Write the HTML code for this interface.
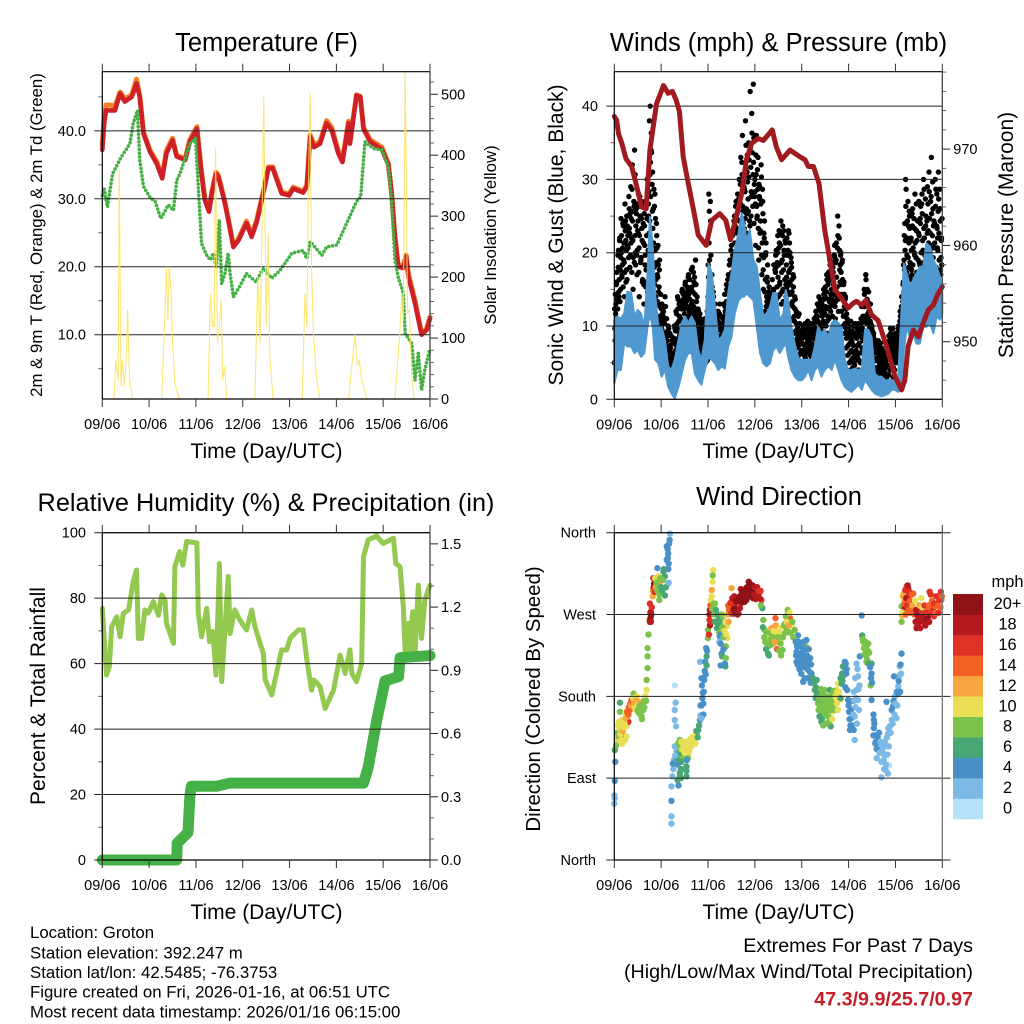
<!DOCTYPE html>
<html lang="en">
<head>
<meta charset="utf-8">
<title>Weather station meteogram</title>
<style>
html,body{margin:0;padding:0;background:#fff;width:1024px;height:1024px;overflow:hidden}
svg{display:block}
text{font-family:"Liberation Sans",Arial,sans-serif;fill:#000}
.tk{font-size:14.5px}
.ax{font-size:21px}
.ttl{font-size:25.5px}
.foot{font-size:16.8px}
.ext{font-size:19.7px}
</style>
</head>
<body>
<svg id="fig" xmlns="http://www.w3.org/2000/svg" width="1024" height="1024" viewBox="0 0 1024 1024">
  <rect x="0" y="0" width="1024" height="1024" fill="#fff"/>
  <g id="p1"></g>
  <g id="p2"></g>
  <g id="p3"></g>
  <g id="p4"></g>
  <g id="speed-legend"></g>

  <text class="ttl" x="266.5" y="51" text-anchor="middle">Temperature (F)</text>
  <text class="ttl" x="778.5" y="51" text-anchor="middle">Winds (mph) &amp; Pressure (mb)</text>
  <text class="ttl" x="266" y="511" text-anchor="middle" style="font-size:25.3px">Relative Humidity (%) &amp; Precipitation (in)</text>
  <text class="ttl" x="779" y="505" text-anchor="middle">Wind Direction</text>

  <text class="ax" x="266.5" y="458" text-anchor="middle">Time (Day/UTC)</text>
  <text class="ax" x="778.5" y="458" text-anchor="middle">Time (Day/UTC)</text>
  <text class="ax" x="266.5" y="919" text-anchor="middle">Time (Day/UTC)</text>
  <text class="ax" x="778.5" y="919" text-anchor="middle">Time (Day/UTC)</text>

  <text x="0" y="0" transform="translate(42,235) rotate(-90)" text-anchor="middle" style="font-size:16.8px">2m &amp; 9m T (Red, Orange) &amp; 2m Td (Green)</text>
  <text x="0" y="0" transform="translate(496,235) rotate(-90)" text-anchor="middle" style="font-size:16.8px">Solar Insolation (Yellow)</text>
  <text x="0" y="0" transform="translate(563,235) rotate(-90)" text-anchor="middle" style="font-size:21px">Sonic Wind &amp; Gust (Blue, Black)</text>
  <text x="0" y="0" transform="translate(1013,235) rotate(-90)" text-anchor="middle" style="font-size:21px">Station Pressure (Maroon)</text>
  <text x="0" y="0" transform="translate(45,696) rotate(-90)" text-anchor="middle" style="font-size:21px">Percent &amp; Total Rainfall</text>
  <text x="0" y="0" transform="translate(540,699) rotate(-90)" text-anchor="middle" style="font-size:20.4px">Direction (Colored By Speed)</text>

  <text class="foot" x="30" y="938">Location: Groton</text>
  <text class="foot" x="30" y="958.5">Station elevation: 392.247 m</text>
  <text class="foot" x="30" y="978">Station lat/lon: 42.5485; -76.3753</text>
  <text class="foot" x="30" y="997.5">Figure created on Fri, 2026-01-16, at 06:51 UTC</text>
  <text class="foot" x="30" y="1017.5">Most recent data timestamp: 2026/01/16 06:15:00</text>

  <text class="ext" x="973" y="952" text-anchor="end">Extremes For Past 7 Days</text>
  <text class="ext" x="973" y="978" text-anchor="end">(High/Low/Max Wind/Total Precipitation)</text>
  <text class="ext" x="973" y="1005.5" text-anchor="end" style="font-weight:bold;fill:#c4202a">47.3/9.9/25.7/0.97</text>
</svg>

<script>
/* ---------- shared axis labels ---------- */
const dayLabels = ["09/06","10/06","11/06","12/06","13/06","14/06","15/06","16/06"];

/* ---------- temperature panel data ---------- */
const tempDays = [0,.04,.08,.16,.27,.38,.48,.63,.73,.80,
 .88,1.02,1.16,1.28,1.37,1.50,1.59,1.77,1.87,2.02,
 2.11,2.19,2.28,2.34,2.43,2.48,2.55,2.62,2.69,2.80,
 2.91,3.08,3.19,3.30,3.44,3.55,3.64,3.83,3.99,4.08,
 4.29,4.37,4.44,4.52,4.65,4.79,4.90,5.04,5.13,5.26,
 5.29,5.43,5.51,5.58,5.72,5.97,6.11,6.18,6.25,6.32,
 6.43,6.49,6.54,6.68,6.82,6.93,7];
const temp2m = [37.2,41.1,43,43,43,45.5,44.3,45,47,45,
 39.6,36.9,35.2,33,36.7,38.6,36.2,35.7,38.4,40.3,
 34.2,29.8,28.1,30.8,33.7,33.2,31.3,29.3,26.9,22.9,
 23.9,26.4,24.4,26.6,30.8,34.5,34.5,30.8,30.5,31.5,
 30.9,31.8,39.1,37.6,38.1,41.1,40.1,36.7,35.4,41.1,
 38.1,45.2,45,40.3,38.4,37.3,35,30.8,24.4,20,
 19.8,21.5,18.5,14.6,10,10.7,12.4];
const temp9m = [38,41.9,43.8,43.8,43.6,45.7,44.7,45.3,47.6,45.1,
 39.8,37.1,35.5,33.3,37.1,38.9,36.4,35.9,38.7,40.6,
 34.5,30.1,28.4,31.1,33.9,33.4,31.5,29.5,27.1,23.1,
 24.1,26.7,24.7,26.9,31.1,34.7,34.7,31,30.7,31.7,
 31.1,32,39.4,37.9,38.4,41.5,40.5,37.1,35.7,41.4,
 38.4,45.3,45.1,40.5,38.7,37.6,35.2,30.9,24.5,20.3,
 20.1,21.7,18.9,15,10.2,10.9,12.6];
const dewDays = [0,.04,.11,.22,.41,.59,.66,.75,.80,.88,
 1.02,1.13,1.25,1.41,1.52,1.59,1.66,1.87,1.99,2.05,
 2.12,2.23,2.31,2.37,2.44,2.50,2.55,2.62,2.69,2.73,
 2.80,2.91,3.08,3.28,3.44,3.62,3.80,4.05,4.29,4.37,
 4.44,4.69,4.79,5.01,5.22,5.43,5.52,5.61,5.79,5.97,
 6.11,6.18,6.25,6.32,6.43,6.47,6.61,6.68,6.75,6.82,
 6.89,7];
const dewPoint = [30.5,31.5,28.8,33.7,36.2,38.1,41.1,43,35.7,31.8,
 30.2,29.6,27.1,29.1,28.3,32.7,33.7,38.1,38.9,31.8,
 23.4,21.7,21,22,19.8,26.9,17.5,19,22,19,
 15.6,16.8,19,17.8,19.8,18.3,19.5,22,22.4,21.2,
 23.7,21.7,22.9,23.2,26.4,29.6,30.3,38.4,37.4,37.2,
 34.7,29.8,21,18.5,16.1,10.2,8.7,3.3,7.3,1.9,
 4.8,8];
const solarDays = [.25,.29,.34,.36,.40,.43,.47,.51,.54,.58,.64,
 1.27,1.34,1.37,1.40,1.43,1.47,1.50,1.55,1.65,
 2.26,2.31,2.36,2.39,2.42,2.46,2.50,2.54,2.57,2.61,2.66,
 3.26,3.32,3.37,3.40,3.45,3.50,3.54,3.58,3.65,
 4.27,4.33,4.37,4.40,4.44,4.47,4.51,4.58,4.65,
 5.26,5.33,5.40,5.45,5.49,5.54,5.65,
 6.25,6.35,6.40,6.43,6.47,6.52,6.56,6.61,6.66];
const solarValues = [0,64,32,376,21,64,21,64,146,37,0,
 0,146,217,130,217,173,92,26,0,
 0,173,119,119,411,92,119,163,32,53,0,
 0,201,92,223,496,119,272,64,0,
 0,173,119,337,502,217,108,32,0,
 0,54,106,54,64,32,0,
 0,103,173,130,537,141,146,37,0];
const tempTicks = [10,20,30,40];
const tempTickLabels = ["10.0","20.0","30.0","40.0"];
const tempMinorTicks = [5,15,25,35,45];
const solarTicks = [0,100,200,300,400,500];
const solarMinorTicks = [20,40,60,80,120,140,160,180,220,240,260,280,320,340,360,380,420,440,460,480,520];

/* ---------- winds panel data ---------- */
const pressureDays = [0,.05,.09,.16,.25,.37,.48,.58,.68,.76,
 .90,1.05,1.15,1.24,1.32,1.39,1.47,1.58,1.69,1.79,
 1.96,2.08,2.25,2.38,2.48,2.57,2.72,2.82,2.93,3.07,
 3.18,3.37,3.46,3.57,3.75,3.96,4.07,4.14,4.25,4.37,
 4.49,4.60,4.71,4.85,4.99,5.10,5.17,5.28,5.37,5.49,
 5.63,5.81,5.99,6.13,6.20,6.27,6.38,6.49,6.59,6.70,
 6.81,6.91,7];
const pressureValues = [973.4,973,971.6,970.6,969,968.2,966.1,964,963.8,969.9,
 974.7,976.6,975.8,976,975.1,973.9,969.2,966.4,963.7,961.1,
 960,962.6,963.3,962.6,960.6,962.3,965.4,968.9,970.6,971.1,
 970.9,972,970.2,968.9,969.9,969.2,968.9,968.2,968.2,966.4,
 961.6,958.5,955.4,954.5,953.5,954,954.2,953.8,954.3,952.8,
 952.2,949.5,946.4,945,946,949.5,951.2,950.5,951.9,953.3,
 953.8,955,955.7];
const windDays = [0,.07,.14,.21,.28,.36,.43,.50,.57,.64,
 .71,.76,.82,.87,.94,1.01,1.08,1.15,1.22,1.29,
 1.37,1.44,1.51,1.58,1.65,1.72,1.79,1.86,1.93,2.01,
 2.08,2.15,2.22,2.29,2.36,2.43,2.50,2.57,2.65,2.72,
 2.77,2.82,2.89,2.97,3.04,3.11,3.18,3.25,3.32,3.39,
 3.46,3.53,3.61,3.66,3.71,3.78,3.85,3.93,4.0,4.07,
 4.14,4.21,4.28,4.35,4.42,4.49,4.57,4.64,4.71,4.78,
 4.85,4.92,4.99,5.06,5.14,5.21,5.28,5.35,5.42,5.49,
 5.56,5.63,5.70,5.78,5.85,5.92,5.99,6.06,6.13,6.18,
 6.24,6.31,6.38,6.45,6.52,6.59,6.66,6.74,6.81,6.88,6.95,7];
const windHigh = [10.8,11.3,11,11.7,14.7,14.5,11.3,12.2,11.7,9.9,
 17.2,24.9,20.8,14.5,9.9,9.9,8.1,4.5,4,5.4,
 8.1,10.4,11.3,10.4,11.3,10.4,6.7,5.4,8.1,18.5,
 17.2,12.6,8.1,8.5,9.5,14.5,17.2,20.4,22.6,25.4,
 24,21.7,23.1,19,18.1,14.5,11.3,11.7,12.6,14.5,
 14.5,10.8,11.7,14.9,13.5,9.9,7.6,5.6,5.4,5.4,
 5.4,5.4,7.2,9.9,9,9.5,8.5,10.4,10.8,10.4,
 9.9,5.4,4,4,4.2,4,4.2,9.5,9.5,8.5,
 3.5,3.1,3.1,2.6,2.6,2.6,2.6,3.1,12.2,18.5,
 17.2,15.4,16.3,17.2,18.1,18.1,21.3,20.8,19,18.1,16.7,14.5];
const windLow = [2.2,4,4,7.6,7.2,7.2,6.3,6.7,5.8,6.3,
 9.9,11.7,9.9,5.4,4.9,3.1,4,1.7,.8,.1,
 1.7,3.5,5.4,6.3,6.3,3.5,2.6,2,4,5.8,
 5.4,4.9,4,4.5,4.2,7.2,8.5,11.7,13.5,14,
 14,14.5,14,13.5,9.9,6.3,4.9,4.5,4.9,6.7,
 7.2,6.3,7.2,7.6,5.8,4,3.1,2.6,2.6,3.1,
 4,2.6,4,4.5,3.1,4,4.5,4,5.4,4,
 2.6,1.7,1.3,1,1.5,2,1.3,2.6,2,1.3,
 .8,.6,.4,.6,.8,1.3,1.3,1,2,6.7,
 9.9,8.5,9,7.6,7.6,9.9,9.9,10.4,9,11.3,10.9,11.7];
const gustPerDay = 60;
const gustValues = [
 5,8,13,16,11,18,14,22,15,20, 17,24,19,14,23,16,25,21,13,26,
 18,29,22,32,15,27,34,20,26,17, 23,28,14,25,19,27,16,24,13,21,
 27,16,30,12,25,38,40,34,20,31, 26,18,28,14,24,17,21,13,19,11,
 10,13,7,12,9,14,6,11,8,10, 5,9,7,4,8,3,6,10,5,12,
 8,14,7,13,9,11,6,15,10,13, 8,16,11,14,9,17,12,15,8,13,
 18,10,16,12,19,11,14,9,12,8, 11,7,10,6,9,8,11,5,9,12,
 14,28,19,27,12,17,10,14,8,13, 7,11,6,12,8,13,7,10,6,11,
 13,8,12,7,15,10,17,12,19,13, 21,15,23,16,25,18,27,20,28,16,
 30,22,33,18,36,24,29,20,38,26, 31,22,35,17,42,25,39,28,43,24,
 30,21,36,25,33,19,29,23,32,17, 27,15,22,12,20,14,16,10,13,9,
 12,8,13,10,15,11,14,18,12,20, 14,23,16,21,13,19,15,23,11,20,
 14,22,12,23,16,20,13,18,11,17, 9,14,8,12,7,10,6,9,5,8,
 9,5,10,6,9,4,10,7,8,5, 10,6,9,5,10,7,11,6,12,8,
 13,7,14,9,12,6,13,10,15,8, 14,10,17,9,16,11,19,12,15,9,
 18,13,21,11,19,14,25,12,22,16, 20,12,19,10,16,9,14,7,11,6,
 10,5,9,4,8,3,10,5,9,4, 10,6,9,4,10,5,11,7,13,8,
 15,9,17,11,15,8,12,6,13,7, 10,5,9,3,8,4,7,3,8,5,
 6,3,7,2,6,4,5,2,6,3, 7,2,8,4,9,5,8,3,7,4,
 9,5,8,6,10,7,12,8,14,10, 16,19,24,30,15,22,27,18,25,14,
 22,17,26,13,20,28,16,23,12,19, 27,15,24,20,28,17,30,22,14,25,
 19,29,23,31,18,27,33,21,26,16, 24,30,18,28,22,31,19,26,17,22];
const gustValuesB = [
 12,14,10,17,12,20,16,13,19,22, 18,15,21,17,24,20,16,22,19,23,
 25,21,17,24,19,26,22,18,25,20, 24,17,22,26,19,23,16,21,25,18,
 15,22,12,20,28,24,32,36,29,23, 21,26,20,16,22,13,18,15,11,14,
 12,9,11,6,10,8,7,5,9,6, 4,7,5,3,6,4,8,5,9,7,
 10,12,8,11,13,9,12,7,14,10, 12,9,13,15,11,14,16,12,10,15,
 13,17,11,14,10,13,8,12,9,7, 10,6,9,5,8,6,10,7,8,5,
 18,21,13,24,11,15,9,12,7,11, 6,9,8,11,6,10,5,9,7,10,
 11,14,9,13,11,16,14,18,15,20, 17,22,19,24,21,26,23,25,18,27,
 24,29,21,32,26,30,23,28,31,25, 33,27,30,24,34,28,36,26,32,29,
 28,33,26,31,23,29,27,24,30,21, 25,19,24,16,21,13,18,11,15,10,
 14,10,16,12,18,14,17,20,15,22, 18,21,14,24,17,22,13,20,16,21,
 18,15,20,17,21,14,19,16,13,15, 11,12,9,10,8,11,7,10,6,9,
 8,6,9,7,10,5,8,6,9,7, 8,5,10,6,9,8,10,7,11,9,
 11,8,12,10,13,9,11,12,14,10, 15,12,16,11,17,13,18,14,16,11,
 17,14,19,13,21,15,22,14,20,18, 17,14,16,11,14,10,12,8,10,7,
 9,6,8,5,9,4,7,6,10,5, 8,7,10,5,9,6,10,8,11,9,
 14,11,16,10,13,9,11,7,10,8, 9,6,8,4,7,5,6,4,7,6,
 5,4,6,3,5,3,6,4,5,2, 6,3,7,5,8,6,7,4,6,5,
 8,6,7,5,9,8,11,9,12,13, 18,22,20,26,17,24,19,21,23,16,
 20,25,18,15,23,21,19,17,24,14, 22,18,26,16,25,20,23,15,27,19,
 24,17,21,28,20,16,25,22,19,24, 21,26,16,23,20,27,15,24,19,18];
const gustValuesC = [
 9,11,15,13,19,14,21,17,24,16, 20,23,18,26,21,17,23,20,27,22,
 19,24,28,21,25,18,30,23,19,26, 22,20,27,18,24,21,26,15,23,19,
 17,24,14,26,22,30,27,33,25,20, 28,15,24,18,20,16,14,17,12,10,
 9,11,8,10,7,12,5,8,6,9, 6,5,8,4,7,5,7,9,6,11,
 9,13,10,8,12,10,14,9,13,11, 15,8,14,12,16,10,13,11,17,9,
 14,12,16,10,15,9,11,10,7,11, 8,9,6,10,7,9,6,8,10,6,
 16,25,15,19,13,10,14,8,10,6, 9,7,10,8,11,7,9,8,6,8,
 9,12,10,15,9,14,12,16,13,18, 16,19,22,18,23,15,24,22,26,20,
 22,26,18,30,25,21,28,24,34,22, 29,25,32,23,31,27,33,30,35,27,
 26,30,24,28,20,27,22,26,19,28, 17,22,14,19,12,16,12,14,11,13,
 11,13,9,14,13,17,19,13,18,16, 20,15,22,18,14,23,17,19,21,15,
 16,19,14,22,17,15,18,14,12,16, 10,13,7,11,9,8,11,7,8,6,
 7,9,6,8,5,9,7,10,6,8, 6,9,7,8,6,9,8,9,10,7,
 10,12,9,13,8,12,11,10,13,11, 12,14,10,15,13,16,12,17,13,18,
 15,19,12,18,16,20,13,23,17,19, 15,18,13,15,12,13,9,11,8,9,
 8,7,10,6,7,5,8,4,8,6, 9,5,8,7,9,8,12,9,10,12,
 12,14,10,13,11,14,9,10,8,9, 7,8,5,7,6,3,7,5,6,3,
 7,5,4,6,4,5,3,7,4,6, 5,8,4,9,6,7,9,5,8,6,
 7,8,6,9,7,10,8,12,11,15, 14,17,21,28,19,16,23,25,18,21,
 17,23,20,24,19,16,26,21,15,22, 18,24,16,26,21,18,28,19,23,17,
 22,26,19,24,22,27,18,29,23,20, 17,28,23,20,25,22,28,17,21,24];
const gustPassOffsets = [0,.33,.66];
const windLeftTicks = [0,10,20,30,40];
const windLeftLabels = ["0","10","20","30","40"];
const windMinorTicks = [5,15,25,35];
const pressureTicks = [950,960,970];
const pressureMinorTicks = [946,948,952,954,956,958,962,964,966,968,972,974,976,978];

/* ---------- humidity panel data ---------- */
const humidityDays = [0,.09,.15,.20,.31,.38,.45,.56,.66,.73,
 .77,.84,.91,.98,1.09,1.20,1.27,1.34,1.37,1.52,
 1.55,1.65,1.72,1.80,2.02,2.05,2.12,2.23,2.29,2.36,
 2.43,2.50,2.55,2.69,2.73,2.83,2.94,3.08,3.19,3.26,
 3.37,3.44,3.48,3.62,3.72,3.83,3.94,4.01,4.19,4.29,
 4.37,4.47,4.52,4.65,4.76,4.94,5.08,5.19,5.29,5.33,
 5.43,5.54,5.58,5.68,5.86,6.0,6.22,6.27,6.36,6.43,
 6.47,6.54,6.57,6.63,6.68,6.75,6.82,6.89,7];
const humidityValues = [76.9,56.5,59.1,71.3,74.3,68.2,75.4,76.4,85,88.6,
 67.7,67.7,76.4,75.4,78.9,74.8,81,79.4,72.3,66.2,
 89.6,94.2,90.1,97.3,96.9,75.4,68.2,76.9,66.7,69.8,
 56.5,90.6,54.5,86.6,69.2,76.4,73.3,70.3,76.4,71.3,
 66.2,63.1,55,50.4,57,64.2,64.2,67.7,70.3,70.3,
 61.1,51.9,55,53,46.3,51.9,62.6,57,64.2,57,
 54.5,60.1,92.7,97.8,99,96.7,98.3,90.6,89.6,77.4,
 63.1,72.3,63.6,75.9,62.6,84,67.7,79.4,84];
const rainDays = [0,1.59,1.60,1.83,1.87,1.9,2.44,2.73,5.58,5.68,5.86,6.04,6.33,6.36,7];
const rainValues = [0,0,.08,.13,.30,.35,.35,.365,.365,.44,.66,.85,.87,.96,.97];
const humidityTicks = [0,20,40,60,80,100];
const humidityTickLabels = ["0","20","40","60","80","100"];
const humidityMinorTicks = [10,30,50,70,90];
const rainTicks = [0,.3,.6,.9,1.2,1.5];
const rainTickLabels = ["0.0","0.3","0.6","0.9","1.2","1.5"];
const rainMinorTicks = [.1,.2,.4,.5,.7,.8,1,1.1,1.3,1.4];

/* ---------- wind direction panel data ---------- */
const dirTicks = [0,90,180,270,360];
const dirTickLabels = ["North","East","South","West","North"];
const dirDays = [0,.01,0,.01,.02,.01,.05,.09,.12,.16,.12,.19,.23,.26,.30,.33,.37,.41,.44,.48,.51,.55,.58,.62,.65,.69,.12,.26,.69,.71,.71,.71,.73,.75,.78,.78,.76,.82,.85,.85,.87,.92,.96,.97,.94,1.05,1.08,1.08,1.15,1.12,1.15,1.17,1.19,1.29,1.31,1.29,1.29,1.32,
 1.22,1.22,1.22,1.22,1.24,1.37,1.27,1.29,1.40,1.54,1.54,1.44,1.47,1.40,1.58,1.61,1.69,1.72,1.76,1.79,1.83,1.84,1.90,1.91,1.86,1.97,1.96,1.83,2.0,2.0,2.03,2.04,2.08,2.11,2.10,2.10,2.08,2.15,2.22,2.25,2.24,2.32,2.40,2.41,2.38,2.29,2.27,2.37,2.36,
 2.50,2.47,2.54,2.61,2.65,2.72,2.79,2.89,2.93,3.04,3.11,3.14,2.82,2.68,2.57,2.54,2.62,2.75,2.86,2.96,3.07,2.47,
 3.16,3.18,3.21,3.25,3.28,3.32,3.36,3.43,3.44,3.45,3.46,3.57,3.59,3.68,3.71,3.75,3.78,3.85,3.28,3.39,3.54,3.64,
 3.92,3.96,3.89,4.0,4.10,4.07,4.17,4.03,4.09,4.21,3.96,4.03,3.89,4.14,
 4.32,4.28,4.39,4.49,4.60,4.67,4.74,4.78,4.78,4.71,4.35,4.53,4.64,4.42,4.49,4.60,4.42,4.62,4.67,4.81,4.42,4.60,4.32,
 4.88,4.92,4.94,4.85,4.97,4.99,5.01,5.06,5.03,5.13,5.11,5.17,5.20,5.17,5.20,5.13,5.24,5.28,
 5.29,5.31,5.35,5.42,5.38,5.38,5.49,5.49,5.47,5.49,
 5.54,5.54,5.56,5.58,5.60,5.70,5.75,5.79,5.84,5.87,5.81,5.84,5.88,5.92,5.95,5.99,6.06,6.09,5.97,6.13,6.09,6.06,6.02,5.81,5.70,5.74,5.63,
 6.13,6.14,6.13,6.18,6.24,6.27,6.34,6.38,6.20,6.48,6.45,6.52,6.55,6.63,6.70,6.73,6.77,6.80,6.88,6.95,6.98,6.52,6.38,6.27,6.20,6.59,6.70,6.84];
const dirDegrees = [62,68,71,87,108,121,132,136,143,154,163,136,132,147,152,165,176,183,176,180,174,169,158,165,176,187,173,136,198,211,224,233,248,264,268,273,282,290,301,304,297,321,286,306,312,317,312,291,304,330,337,348,359,192,173,165,154,147,
 48,40,65,81,92,82,110,125,92,92,103,117,125,132,117,128,128,134,139,143,154,159,172,185,200,224,233,218,244,253,264,275,290,319,313,306,297,282,264,246,240,264,257,244,235,227,214,213,216,
 299,279,280,277,271,293,291,304,295,295,295,286,286,277,284,271,284,288,295,288,291,271,
 277,264,253,247,227,236,253,257,266,247,240,244,231,253,271,266,258,253,246,246,249,260,
 247,235,218,224,242,216,207,196,235,205,227,233,229,220,
 198,187,183,187,187,183,187,194,180,174,172,172,163,163,161,156,152,147,169,176,176,176,181,
 213,205,216,194,187,176,163,156,143,132,143,216,202,187,176,158,224,269,
 247,240,235,238,224,218,216,205,192,176,
 154,145,137,130,112,91,110,99,95,104,125,139,147,154,169,180,191,203,202,227,213,183,156,174,125,117,128,
 262,269,279,293,301,290,282,275,277,264,255,275,288,269,268,295,282,275,282,291,286,262,293,299,286,273,275,279];
const dirSpeeds = [2,2,2,3,4,5,10,8,10,10,8,15,10,10,15,13,15,8,12,10,12,10,7,8,8,10,6,9,7,7,7,8,8,12,18,17,15,12,17,20,12,4,7,11,10,6,5,5,2,4,4,4,2,0,2,1,2,2,
 2,2,4,2,2,4,2,2,6,6,5,6,10,8,10,10,10,10,7,6,4,2,4,4,4,6,4,2,8,8,15,17,10,10,7,10,12,7,6,4,2,8,10,10,7,4,4,6,4,
 12,14,16,18,18,18,19,20,20,18,16,16,19,18,18,20,18,20,20,19,18,15,
 6,7,7,6,6,7,10,13,14,12,12,10,7,8,8,13,10,7,9,8,9,8,
 4,4,4,4,4,4,4,4,7,4,4,4,4,4,
 6,6,8,8,6,8,10,9,12,10,7,7,10,7,8,7,6,6,8,10,6,8,6,
 6,6,4,6,4,3,4,4,3,2,4,2,2,2,2,2,4,4,
 6,8,8,7,8,8,5,4,7,3,
 4,4,4,3,2,1,2,2,2,0,2,2,2,2,4,2,2,2,3,4,2,3,2,3,2,2,2,
 7,12,8,12,14,16,14,13,18,17,18,16,10,18,20,16,14,18,16,16,14,18,14,18,12,16,14,14];
const dirDenseObservations = [
 [.04,126,7],[.06,140,8],[.08,148,10],[.10,152,10],[.11,145,10],[.13,138,10],[.14,150,10],[.15,132,9],[.17,128,10],[.18,142,12],[.20,146,10],[.22,150,10],[.24,156,12],[.25,160,10],[.27,163,13],[.28,158,12],[.30,160,14],[.31,168,14],[.34,172,13],[.36,170,12],[.38,174,14],[.40,178,10],[.42,172,12],[.43,168,10],[.45,172,12],[.46,165,10],[.47,175,12],[.49,170,10],[.50,165,8],[.52,162,8],[.54,170,8],[.56,160,7],[.57,165,8],[.59,155,8],[.60,170,7],[.63,175,8],[.64,168,8],[.66,180,9],[.68,175,7],
 [.76,262,18],[.77,265,20],[.78,262,18],[.79,270,20],[.77,272,17],[.80,278,16],[.82,296,12],[.83,310,15],[.84,300,18],[.86,295,16],[.87,310,10],[.88,300,12],[.90,305,8],[.92,296,8],[.95,300,7],[.96,292,8],[.98,310,8],[1.0,300,6],[1.02,296,5],[1.04,308,7],[1.06,320,6],[1.1,300,5],[1.12,345,4],[1.14,342,4],[1.14,332,4],[1.16,326,4],[1.18,352,4],[1.15,320,4],[1.16,305,2],
 [1.33,120,2],[1.34,112,6],[1.35,105,4],[1.36,128,8],[1.38,118,6],[1.39,110,6],[1.41,122,8],[1.42,100,6],[1.43,130,10],[1.45,122,10],[1.46,112,8],[1.48,130,10],[1.49,120,10],[1.5,118,10],[1.52,128,10],[1.53,122,10],[1.55,130,10],[1.56,125,10],[1.57,112,8],[1.59,127,10],[1.6,120,10],[1.62,133,10],[1.64,125,10],[1.65,135,10],[1.67,130,10],[1.7,136,10],[1.73,128,10],[1.75,142,6],[1.78,135,6],[1.81,148,5],[1.3,115,2],[1.26,100,2],[1.25,106,3],[1.35,88,5],[1.4,96,6],[1.42,90,6],[1.43,108,5],[1.54,98,5],[1.55,110,4],
 [1.86,170,4],[1.88,178,4],[1.87,192,4],[1.89,184,4],[1.9,160,3],[1.93,208,4],[1.94,218,4],[1.95,204,4],[1.92,198,4],[1.97,214,5],[1.98,230,4],[1.86,156,2],[1.84,170,4],
 [2.02,248,15],[2.03,270,18],[2.04,258,17],[2.05,280,14],[2.06,286,10],[2.07,262,16],[2.09,276,8],[2.12,282,7],[2.13,270,7],[2.15,262,6],[2.17,275,6],[2.19,255,6],[2.21,270,6],[2.23,258,6],[2.24,250,7],[2.26,262,6],[2.28,248,4],[2.27,238,4],[2.29,270,8],[2.31,256,8],[2.33,245,8],[2.35,252,10],[2.37,262,9],[2.39,248,10],[2.41,270,12],[2.43,280,14],[2.45,275,14],[2.44,262,12],[2.33,232,4],[2.3,224,5],[2.38,222,7],
 [2.48,283,16],[2.5,272,16],[2.52,288,18],[2.55,276,19],[2.56,290,18],[2.58,272,20],[2.6,285,19],[2.63,270,18],[2.66,288,20],[2.68,290,19],[2.7,298,18],[2.72,283,20],[2.74,296,20],[2.77,294,19],[2.78,284,20],[2.8,298,20],[2.83,300,20],[2.85,292,20],[2.87,306,20],[2.88,298,20],[2.91,300,20],[2.92,290,19],[2.95,302,20],[2.97,296,20],[2.99,292,18],[3.0,300,18],[3.02,287,18],[3.05,300,17],[3.08,296,16],[3.1,288,18],[3.12,296,16],[3.13,280,7],
 [3.17,256,6],[3.2,245,7],[3.22,240,8],[3.24,232,6],[3.26,238,7],[3.3,225,6],[3.31,250,8],[3.34,243,8],[3.35,255,12],[3.38,238,8],[3.4,252,10],[3.42,240,12],[3.45,258,12],[3.47,232,13],[3.48,250,10],[3.5,245,8],[3.52,230,8],[3.53,255,9],[3.55,238,8],[3.56,225,7],[3.6,245,7],[3.62,258,8],[3.65,250,8],[3.66,268,8],[3.68,262,10],[3.7,275,8],[3.72,258,12],[3.74,272,10],[3.76,250,8],[3.8,262,8],[3.82,245,7],
 [3.87,240,4],[3.9,235,4],[3.88,225,4],[3.91,215,4],[3.93,240,4],[3.94,222,4],[3.95,210,4],[3.97,238,4],[3.98,218,4],[3.99,205,4],[4.01,228,4],[4.02,212,4],[4.04,240,4],[4.05,220,4],[4.06,200,4],[4.08,232,4],[4.1,215,4],[4.11,225,4],[4.12,210,4],[4.13,200,4],[4.15,232,4],[4.16,215,4],[4.18,222,4],[4.19,195,4],[4.2,215,4],[4.22,195,4],[4.24,200,5],
 [4.26,195,6],[4.3,190,6],[4.3,178,6],[4.34,185,6],[4.36,165,7],[4.37,178,7],[4.38,158,6],[4.4,170,7],[4.41,188,8],[4.43,155,6],[4.44,182,8],[4.45,168,7],[4.46,148,7],[4.47,175,7],[4.5,160,7],[4.51,180,8],[4.52,150,7],[4.54,165,7],[4.55,180,7],[4.56,158,8],[4.58,170,7],[4.59,152,7],[4.61,165,8],[4.63,180,7],[4.65,155,9],[4.66,172,8],[4.68,186,8],[4.7,165,8],[4.72,180,10],[4.75,172,10],[4.76,185,10],[4.77,165,10],[4.8,185,10],[4.83,178,6],
 [4.83,200,6],[4.86,205,6],[4.87,197,6],[4.89,203,6],[4.9,212,6],[4.92,218,4],[4.95,205,4],[4.93,190,4],[4.96,210,4],
 [5.0,170,4],[5.02,155,3],[5.04,148,3],[5.05,165,4],[5.07,148,4],[5.08,175,3],[5.1,160,2],[5.11,185,2],[5.12,175,2],[5.14,200,2],[5.15,168,2],[5.16,178,2],[5.18,150,2],[5.19,210,2],[5.21,188,2],[5.22,165,2],[5.23,192,2],
 [5.3,243,7],[5.33,233,8],[5.34,226,8],[5.36,240,8],[5.37,228,8],[5.39,236,8],[5.4,220,8],[5.41,230,7],[5.42,216,6],[5.44,228,7],[5.46,212,4],[5.48,200,4],[5.5,195,4],
 [5.53,160,4],[5.55,150,4],[5.53,137,4],[5.57,128,4],[5.6,122,4],[5.62,135,4],[5.65,140,4],[5.66,118,2],[5.68,130,2],[5.7,108,2],[5.72,120,2],[5.74,128,2],[5.76,100,2],[5.77,130,2],[5.78,115,2],[5.8,105,2],[5.82,135,2],[5.83,116,2],[5.85,145,2],[5.86,125,2],[5.9,140,2],[5.92,165,3],[5.94,150,2],[5.96,175,3],[5.98,160,2],[6.0,172,2],[6.03,185,3],[6.04,170,2],[6.07,197,3],[6.1,185,3],[6.12,205,2],[6.11,215,3],
 [6.15,272,10],[6.16,290,12],[6.19,282,14],[6.21,297,16],[6.22,270,14],[6.23,288,18],[6.25,280,16],[6.26,302,18],[6.28,275,14],[6.3,295,16],[6.31,285,14],[6.32,272,14],[6.35,292,14],[6.36,280,12],[6.4,270,14],[6.42,285,10],[6.43,262,18],[6.44,275,18],[6.46,270,18],[6.47,258,18],[6.5,268,18],[6.51,280,12],[6.53,255,18],[6.56,265,18],[6.57,278,10],[6.6,262,18],[6.62,280,16],[6.64,258,18],[6.66,272,16],[6.68,265,20],[6.71,280,14],[6.72,262,18],[6.75,292,16],[6.76,272,16],[6.78,285,14],[6.82,268,16],[6.83,282,16],[6.85,272,14],[6.87,290,16],[6.9,280,14],[6.92,272,16],[6.94,286,16],[6.96,278,14],[6.97,295,16],[6.99,290,14]
];
const speedColors = ["#b5e2fa","#7db9e5","#4a90c8","#48a574","#7bc24a","#e8df55","#f7a540","#f26024","#df3227","#b5191f","#8f1216"];
const speedLabels = ["0","2","4","6","8","10","12","14","16","18","20+"];

/* ---------- drawing helpers ---------- */
const NS = "http://www.w3.org/2000/svg";
function mk(parent, tag, attrs, text) {
  const el = document.createElementNS(NS, tag);
  for (const k in attrs) el.setAttribute(k, attrs[k]);
  if (text !== undefined) el.textContent = text;
  parent.appendChild(el);
  return el;
}
function linear(d0, d1, r0, r1) {
  return v => r0 + (v - d0) * (r1 - r0) / (d1 - d0);
}
function linePoints(xs, ys, sx, sy) {
  return xs.map((x, i) => sx(x).toFixed(2) + "," + sy(ys[i]).toFixed(2)).join(" ");
}
function hLine(g, x0, x1, y, width, color) {
  return mk(g, "line", {x1: x0, x2: x1, y1: y, y2: y, stroke: color, "stroke-width": width});
}
function vLine(g, x, y0, y1, width, color) {
  return mk(g, "line", {x1: x, x2: x, y1: y0, y2: y1, stroke: color, "stroke-width": width});
}

/* Draws spines, day ticks and day labels of a panel */
function drawFrame(g, sx, yTop, yBot, rightColor) {
  const x0 = sx(0), x1 = sx(7);
  const top = hLine(g, x0, x1, yTop, 1.2, "#000");
  
  
  const bot = hLine(g, x0, x1, yBot, 1.2, "#000");
  
  
  const left = vLine(g, x0, yTop, yBot, 1.2, "#000");
  
  
  const right = vLine(g, x1, yTop, yBot, 1.3, rightColor);
  
  
  dayLabels.forEach((lab, d) => {
    const up = vLine(g, sx(d), yTop - 8, yTop, 1, "#333");
    
    
    const dn = vLine(g, sx(d), yBot, yBot + 8, 1, "#333");
    
    
    const t = mk(g, "text", {class: "tk", x: sx(d), y: yBot + 30, "text-anchor": "middle"}, lab);
    
    
  });
}
/* Grid rules through the plot plus the outward tick stub */
function drawGrid(g, sy, values, x0, x1, gridRight) {
  values.forEach(v => {
    const l = hLine(g, x0 - 8, gridRight === undefined ? x1 : gridRight, sy(v), 1, "#222");
    
    
  });
}
function drawLeftLabels(g, sy, values, labels, xRight) {
  values.forEach((v, i) => {
    const t = mk(g, "text", {class: "tk", x: xRight, y: sy(v) + 5, "text-anchor": "end"}, labels[i]);
    
    
  });
}
function drawLeftMinor(g, sy, values, x0) {
  values.forEach(v => {
    const l = hLine(g, x0 - 4, x0, sy(v), 1, "#666");
    
    
  });
}
function drawRightAxis(g, sy, majors, labels, minors, x1) {
  majors.forEach((v, i) => {
    const l = hLine(g, x1, x1 + 8, sy(v), 1, "#222");
    
    
    const t = mk(g, "text", {class: "tk", x: x1 + 11, y: sy(v) + 5}, labels[i]);
    
    
  });
  minors.forEach(v => {
    const l = hLine(g, x1, x1 + 4, sy(v), 1, "#666");
    
    
  });
}

/* ---------- panel 1: temperature ---------- */
(function () {
  const g = document.getElementById("p1");
  const sx = linear(0, 7, 102.3, 430);
  const sy = linear(0.54, 48.7, 399, 71.7);
  const sySolar = linear(0, 537, 399, 71.7);
  const orange = mk(g, "polyline", {points: linePoints(tempDays, temp9m, sx, sy), fill: "none", stroke: "#f58025", "stroke-width": 5, "stroke-linejoin": "round", "stroke-linecap": "round"});
  
  
  const red = mk(g, "polyline", {points: linePoints(tempDays, temp2m, sx, sy), fill: "none", stroke: "#cf2027", "stroke-width": 4.6, "stroke-linejoin": "round", "stroke-linecap": "round"});
  
  
  const green = mk(g, "polyline", {points: linePoints(dewDays, dewPoint, sx, sy), fill: "none", stroke: "#45b045", "stroke-width": 3.6, "stroke-dasharray": "0 3.8", "stroke-linejoin": "round", "stroke-linecap": "round"});
  
  
  drawGrid(g, sy, tempTicks, sx(0), sx(7));
  drawLeftMinor(g, sy, tempMinorTicks, sx(0));
  drawLeftLabels(g, sy, tempTicks, tempTickLabels, 86);
  const solar = mk(g, "polyline", {points: linePoints(solarDays, solarValues, sx, sySolar), fill: "none", stroke: "#fde25a", "stroke-width": 1.1, "stroke-opacity": .85});
  
  
  drawRightAxis(g, sySolar, solarTicks, solarTicks.map(String), solarMinorTicks, sx(7));
  drawFrame(g, sx, 71.7, 399, "#444");
})();

/* ---------- panel 2: winds and pressure ---------- */
(function () {
  const g = document.getElementById("p2");
  const sx = linear(0, 7, 614.3, 942.3);
  const sy = linear(0, 44.7, 399.3, 71.7);
  const syP = linear(944.02, 978.04, 399.3, 71.7);
  [gustValues, gustValuesB, gustValuesC].forEach((series, pass) => {
    series.forEach((v, i) => {
      const d = Math.min(7, (i + pass / 3) / gustPerDay);
      const dot = mk(g, "circle", {cx: sx(d).toFixed(2), cy: sy(v + gustPassOffsets[pass]).toFixed(2), r: 2.7, fill: "#000"});
      
      
    });
  });
  const upper = windDays.map((d, i) => sx(d).toFixed(2) + "," + sy(windHigh[i]).toFixed(2));
  const lower = windDays.map((d, i) => sx(d).toFixed(2) + "," + sy(windLow[i]).toFixed(2)).reverse();
  const wind = mk(g, "polygon", {points: upper.concat(lower).join(" "), fill: "#5098d0", stroke: "#5098d0", "stroke-width": 2, "stroke-linejoin": "round"});
  
  
  drawGrid(g, sy, windLeftTicks, sx(0), sx(7));
  drawLeftMinor(g, sy, windMinorTicks, sx(0));
  drawLeftLabels(g, sy, windLeftTicks, windLeftLabels, 598);
  const pressure = mk(g, "polyline", {points: linePoints(pressureDays, pressureValues, sx, syP), fill: "none", stroke: "#a11a1f", "stroke-width": 5, "stroke-linejoin": "round", "stroke-linecap": "round"});
  
  
  drawRightAxis(g, syP, pressureTicks, pressureTicks.map(String), pressureMinorTicks, sx(7));
  drawFrame(g, sx, 71.7, 399.3, "#444");
})();

/* ---------- panel 3: humidity and precipitation ---------- */
(function () {
  const g = document.getElementById("p3");
  const sx = linear(0, 7, 102.3, 430);
  const sy = linear(0, 100, 860, 532.7);
  const syR = linear(0, 1.553, 860, 532.7);
  const rh = mk(g, "polyline", {points: linePoints(humidityDays, humidityValues, sx, sy), fill: "none", stroke: "#93c94e", "stroke-width": 5, "stroke-linejoin": "round", "stroke-linecap": "round"});
  
  
  const rain = mk(g, "polyline", {points: linePoints(rainDays, rainValues, sx, syR), fill: "none", stroke: "#45b045", "stroke-width": 11, "stroke-linejoin": "round", "stroke-linecap": "round"});
  
  
  drawGrid(g, sy, humidityTicks, sx(0), sx(7));
  drawLeftMinor(g, sy, humidityMinorTicks, sx(0));
  drawLeftLabels(g, sy, humidityTicks, humidityTickLabels, 86);
  drawRightAxis(g, syR, rainTicks, rainTickLabels, rainMinorTicks, sx(7));
  drawFrame(g, sx, 532.7, 860, "#444");
})();

/* ---------- panel 4: wind direction ---------- */
(function () {
  const g = document.getElementById("p4");
  const sx = linear(0, 7, 614.3, 942.3);
  const sy = linear(0, 360, 860, 532.7);
  const colorFor = s => speedColors[Math.min(10, Math.round(s / 2))];
  dirDays.forEach((d, i) => {
    const dot = mk(g, "circle", {cx: sx(d).toFixed(2), cy: sy(dirDegrees[i]).toFixed(2), r: 3.2, fill: colorFor(dirSpeeds[i])});
    
    
  });
  dirDenseObservations.forEach(ob => {
    const dot = mk(g, "circle", {cx: sx(ob[0]).toFixed(2), cy: sy(ob[1]).toFixed(2), r: 3.2, fill: colorFor(ob[2])});
    
    
  });
  drawGrid(g, sy, dirTicks, sx(0), sx(7), 950.5);
  drawLeftLabels(g, sy, dirTicks, dirTickLabels, 596);
  drawFrame(g, sx, 532.7, 860, "#777");

  const lg = document.getElementById("speed-legend");
  const boxTop = 594, boxH = 20.45;
  speedColors.forEach((c, i) => {
    const row = 10 - i;
    const box = mk(lg, "rect", {x: 953, y: (boxTop + row * boxH).toFixed(2), width: 30, height: boxH + .3, fill: c});
    
    
    const lab = mk(lg, "text", {x: 1007.5, y: (boxTop + row * boxH + 15).toFixed(2), "text-anchor": "middle", style: "font-size:16.4px"}, speedLabels[i]);
    
    
  });
  const unit = mk(lg, "text", {x: 1007.5, y: 587, "text-anchor": "middle", style: "font-size:16.4px"}, "mph");
  
  
})();
</script>
</body>
</html>
